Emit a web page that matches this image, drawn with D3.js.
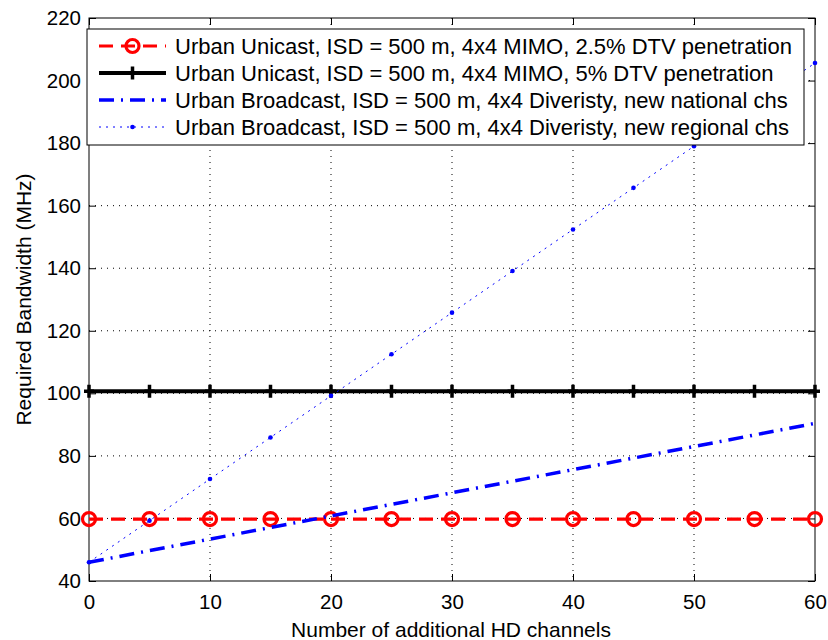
<!DOCTYPE html>
<html>
<head>
<meta charset="utf-8">
<script src="https://cdn.jsdelivr.net/npm/d3@7"></script>
<style>
  body { margin: 0; background: #fff; }
  svg text { font-family: "Liberation Sans", Arial, Helvetica, sans-serif; fill: #000; }
</style>
</head>
<body>
<div id="chart"></div>
<script>
// Values
const channels = [0, 5, 10, 15, 20, 25, 30, 35, 40, 45, 50, 55, 60];
const unicast25 = [59.8, 59.8, 59.8, 59.8, 59.8, 59.8, 59.8, 59.8, 59.8, 59.8, 59.8, 59.8, 59.8];
const unicast5 = [100.7, 100.7, 100.7, 100.7, 100.7, 100.7, 100.7, 100.7, 100.7, 100.7, 100.7, 100.7, 100.7];
const bcNational = [46, 49.7, 53.4, 57.1, 60.8, 64.5, 68.2, 71.9, 75.6, 79.3, 83, 86.7, 90.4];
const bcRegional = [46, 59.3, 72.6, 85.9, 99.2, 112.5, 125.8, 139.1, 152.4, 165.7, 179, 192.3, 205.6];

const xTicks = [0, 10, 20, 30, 40, 50, 60];
const yTicks = [40, 60, 80, 100, 120, 140, 160, 180, 200, 220];

const legendLabels = [
  'Urban Unicast, ISD = 500 m, 4x4 MIMO, 2.5% DTV penetration',
  'Urban Unicast, ISD = 500 m, 4x4 MIMO, 5% DTV penetration',
  'Urban Broadcast, ISD = 500 m, 4x4 Diveristy, new national chs',
  'Urban Broadcast, ISD = 500 m, 4x4 Diveristy, new regional chs'
];

const width = 828, height = 640;
const margin = { top: 18, right: 13, bottom: 59, left: 89 };
const w = width - margin.left - margin.right;
const h = height - margin.top - margin.bottom;

const svg = d3.select('#chart').append('svg')
  .attr('width', width)
  .attr('height', height);

const g = svg.append('g')
  .attr('transform', 'translate(' + margin.left + ',' + margin.top + ')');

const x = d3.scaleLinear().domain([0, 60]).range([0, w]);
const y = d3.scaleLinear().domain([40, 220]).range([h, 0]);

// grid lines - matlab style dotted
g.append('g').selectAll('line')
  .data(xTicks.slice(1, -1))
  .enter().append('line')
  .attr('x1', d => x(d)).attr('x2', d => x(d))
  .attr('y1', 0).attr('y2', h)
  .attr('stroke', '#000').attr('stroke-width', 1)
  .attr('stroke-dasharray', '1,5');

g.append('g').selectAll('line')
  .data(yTicks.slice(1, -1))
  .enter().append('line')
  .attr('x1', 0).attr('x2', w)
  .attr('y1', d => y(d)).attr('y2', d => y(d))
  .attr('stroke', '#000').attr('stroke-width', 1)
  .attr('stroke-dasharray', '1,5');

// axes with inward ticks
const tickLen = 7;
g.append('g')
  .attr('transform', 'translate(0,' + h + ')')
  .call(d3.axisBottom(x).tickValues(xTicks).tickSize(-tickLen).tickPadding(13));
g.append('g')
  .call(d3.axisLeft(y).tickValues(yTicks).tickSize(-tickLen).tickPadding(8));
g.append('g')
  .call(d3.axisTop(x).tickValues(xTicks).tickSize(-tickLen).tickFormat(''));
g.append('g')
  .attr('transform', 'translate(' + w + ',0)')
  .call(d3.axisRight(y).tickValues(yTicks).tickSize(-tickLen).tickFormat(''));

g.selectAll('.domain').remove();
g.selectAll('.tick line').attr('stroke', '#000');
g.selectAll('.tick text').style('font-size', '20.5px').style('font-family', '"Liberation Sans", Arial, sans-serif');

g.append('rect')
  .attr('width', w).attr('height', h)
  .attr('fill', 'none').attr('stroke', '#000').attr('stroke-width', 1);

// axis labels
svg.append('text')
  .attr('x', margin.left + w / 2 - 1).attr('y', 637)
  .attr('text-anchor', 'middle')
  .style('font-size', '21px')
  .text('Number of additional HD channels');

svg.append('text')
  .attr('transform', 'translate(31,' + (margin.top + h / 2) + ') rotate(-90)')
  .attr('text-anchor', 'middle')
  .style('font-size', '21px')
  .text('Required Bandwidth (MHz)');

const series = [
  { values: unicast25, color: '#ff0000', width: 3.2, dash: '14,8', marker: 'circle' },
  { values: unicast5, color: '#000000', width: 4, dash: null, marker: 'plus' },
  { values: bcNational, color: '#0000ff', width: 3.5, dash: '15,7,2,7', marker: null },
  { values: bcRegional, color: '#0000ff', width: 1, dash: '2,5', marker: 'dot' }
];

const line = d3.line()
  .x((d, i) => x(channels[i]))
  .y(d => y(d));

const plot = g.append('g');

function drawMarker(sel, s, px, py) {
  if (s.marker === 'circle') {
    sel.append('circle')
      .attr('cx', px).attr('cy', py).attr('r', 6.5)
      .attr('fill', 'none').attr('stroke', s.color).attr('stroke-width', 3.2);
  } else if (s.marker === 'plus') {
    sel.append('path')
      .attr('d', 'M' + (px - 5) + ',' + py + 'H' + (px + 5) + 'M' + px + ',' + (py - 6.5) + 'V' + (py + 6.5))
      .attr('stroke', s.color).attr('stroke-width', 3.5);
  } else if (s.marker === 'dot') {
    sel.append('circle')
      .attr('cx', px).attr('cy', py).attr('r', 2.3)
      .attr('fill', s.color);
  }
}

series.forEach(function(s) {
  plot.append('path')
    .datum(s.values)
    .attr('d', line)
    .attr('fill', 'none')
    .attr('stroke', s.color)
    .attr('stroke-width', s.width)
    .attr('stroke-dasharray', s.dash);
  s.values.forEach(function(v, i) {
    drawMarker(plot, s, x(channels[i]), y(v));
  });
});

// legend
const legend = svg.append('g');
const lx = 87, ly = 29, lw = 717, lh = 116;
legend.append('rect')
  .attr('x', lx).attr('y', ly).attr('width', lw).attr('height', lh)
  .attr('fill', '#fff').attr('stroke', '#000').attr('stroke-width', 1);

series.forEach(function(s, i) {
  const cy = ly + 17 + i * 27;
  legend.append('line')
    .attr('x1', lx + 12).attr('x2', lx + 79)
    .attr('y1', cy).attr('y2', cy)
    .attr('stroke', s.color)
    .attr('stroke-width', s.width)
    .attr('stroke-dasharray', s.dash);
  drawMarker(legend, s, lx + 45.5, cy);
  legend.append('text')
    .attr('x', lx + 88).attr('y', cy + 7.5)
    .style('font-size', '22px')
    .text(legendLabels[i]);
});
</script>
</body>
</html>
